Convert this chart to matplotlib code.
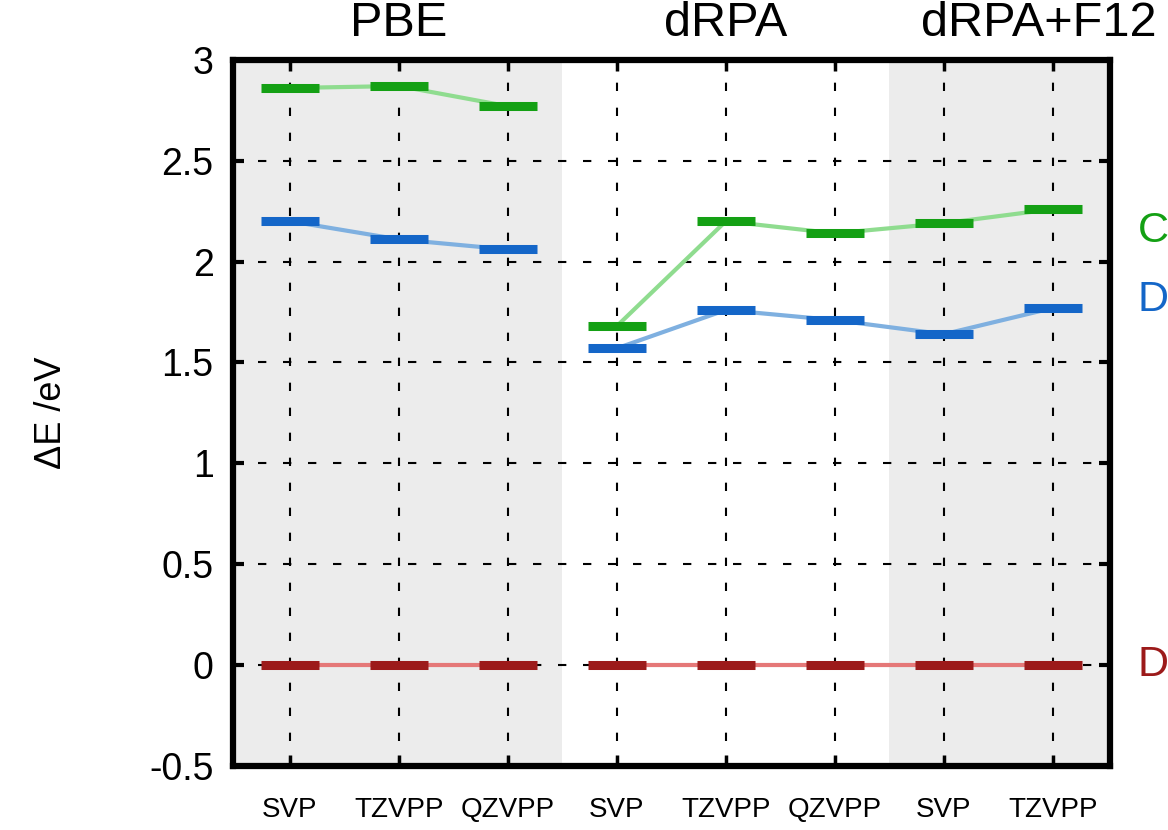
import matplotlib.pyplot as plt

# datos
etiquetas_x = ['SVP', 'TZVPP', 'QZVPP', 'SVP', 'TZVPP', 'QZVPP', 'SVP', 'TZVPP']
metodos = ['PBE', 'dRPA', 'dRPA+F12']

# PBE (posiciones 0-2) y dRPA / dRPA+F12 (posiciones 3-7)
x_pbe = [0, 1, 2]
x_rpa = [3, 4, 5, 6, 7]

verde_pbe = [2.86, 2.87, 2.77]
azul_pbe = [2.20, 2.11, 2.06]
rojo_pbe = [0.0, 0.0, 0.0]

verde_rpa = [1.68, 2.20, 2.14, 2.19, 2.26]
azul_rpa = [1.57, 1.76, 1.71, 1.64, 1.77]
rojo_rpa = [0.0, 0.0, 0.0, 0.0, 0.0]

series = [
    ('C', verde_pbe, verde_rpa, '#14a014', '#8fdc8f', 2.15),
    ('D', azul_pbe, azul_rpa, '#1466c8', '#7fb0e0', 1.81),
    ('D', rojo_pbe, rojo_rpa, '#9c1a1a', '#e57878', 0.0),
]

plt.rcParams['font.family'] = ['Liberation Sans', 'DejaVu Sans']

fig = plt.figure(figsize=(11.68, 8.3), dpi=100)
ax = fig.add_axes([0.1995, 0.077, 0.7505, 0.851])

# zonas sombreadas
ax.axvspan(-0.52, 2.5, color='#ececec', zorder=0, lw=0)
ax.axvspan(5.5, 7.52, color='#ececec', zorder=0, lw=0)

for nombre, yp, yr, c, cl, ylab in series:
    for xs, ys in [(x_pbe, yp), (x_rpa, yr)]:
        ax.plot(xs, ys, color=cl, lw=3, zorder=3, solid_capstyle='butt')
        ax.plot(xs, ys, ls='none', marker='_', markersize=42, markeredgewidth=6.5,
                color=c, zorder=4)
    ax.text(7.78, ylab, nombre, color=c, fontsize=31, va='center', ha='left',
            clip_on=False)

ax.set_xlim(-0.52, 7.52)
ax.set_ylim(-0.5, 3.0)
ax.set_yticks([-0.5, 0, 0.5, 1, 1.5, 2, 2.5, 3])
ax.set_yticklabels(['-0.5', '0', '0.5', '1', '1.5', '2', '2.5', '3'])
ax.set_xticks(range(8))
ax.set_xticklabels(etiquetas_x, fontsize=20)

ax.grid(True, color='black', lw=1.5, ls=(0, (4, 8)), zorder=2)
ax.set_axisbelow(False)
for sp in ax.spines.values():
    sp.set_linewidth(4.5)
    sp.set_zorder(6)

ax.tick_params(axis='y', which='both', direction='in', length=8, width=3,
               labelsize=27, right=True, pad=14)
ax.tick_params(axis='x', direction='in', length=8, width=2.5, top=True, pad=22)

ax.set_ylabel('ΔE /eV', fontsize=26, labelpad=58)

# títulos de los métodos
ax.text(1, 3.07, metodos[0], fontsize=35, ha='center', va='bottom')
ax.text(4, 3.07, metodos[1], fontsize=35, ha='center', va='bottom')
ax.text(5.79, 3.07, metodos[2], fontsize=35, ha='left', va='bottom', clip_on=False)

fig.savefig('out.png', dpi=100)
